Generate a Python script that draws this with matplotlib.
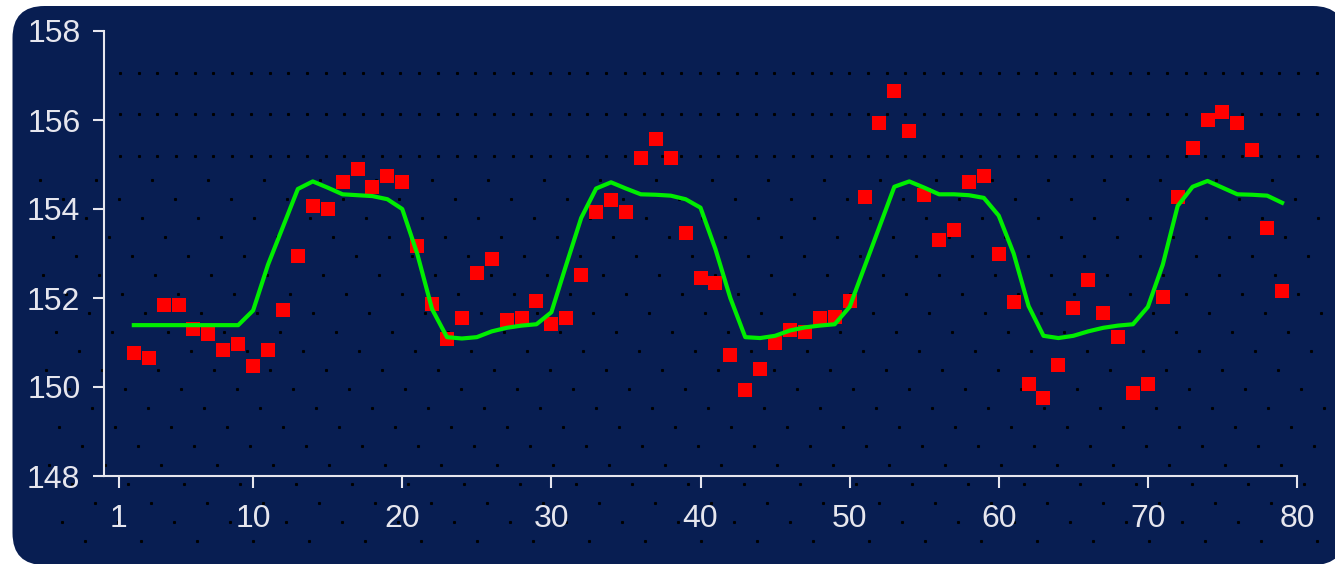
import numpy as np
import matplotlib
matplotlib.use("Agg")
import matplotlib.pyplot as plt
from matplotlib.patches import FancyBboxPatch
from matplotlib.transforms import IdentityTransform

# ---- data ----
x_values = list(range(2, 80))
observed = [150.77, 150.65, 151.84, 151.84, 151.30, 151.20, 150.83, 150.96, 150.47, 150.83,
            151.72, 152.94, 154.07, 154.01, 154.61, 154.91, 154.49, 154.74, 154.61, 153.17,
            151.86, 151.07, 151.56, 152.57, 152.87, 151.51, 151.54, 151.93, 151.41, 151.56,
            152.51, 153.94, 154.20, 153.94, 155.14, 155.57, 155.14, 153.47, 152.44, 152.33,
            150.71, 149.93, 150.41, 151.00, 151.28, 151.24, 151.54, 151.58, 151.93, 154.26,
            155.94, 156.65, 155.75, 154.31, 153.30, 153.53, 154.61, 154.74, 153.00, 151.92,
            150.06, 149.76, 150.49, 151.78, 152.40, 151.67, 151.13, 149.87, 150.06, 152.03,
            154.26, 155.38, 155.99, 156.18, 155.94, 155.33, 153.58, 152.16]
fitted = [151.39, 151.39, 151.39, 151.39, 151.39, 151.39, 151.39, 151.39, 151.72, 152.75,
          153.60, 154.45, 154.62, 154.48, 154.33, 154.31, 154.29, 154.22, 154.00, 153.00,
          151.75, 151.12, 151.09, 151.12, 151.25, 151.33, 151.38, 151.41, 151.68, 152.75,
          153.80, 154.46, 154.60, 154.46, 154.33, 154.32, 154.30, 154.22, 154.03, 153.10,
          152.00, 151.12, 151.10, 151.15, 151.27, 151.34, 151.38, 151.41, 151.80, 152.70,
          153.60, 154.50, 154.62, 154.48, 154.33, 154.33, 154.31, 154.25, 153.85, 153.00,
          151.82, 151.15, 151.10, 151.15, 151.25, 151.33, 151.38, 151.41, 151.80, 152.75,
          154.07, 154.50, 154.63, 154.48, 154.33, 154.32, 154.30, 154.14]
x_ticks = [1, 10, 20, 30, 40, 50, 60, 70, 80]
y_ticks = [148, 150, 152, 154, 156, 158]

NAVY = "#081e52"
AXC = "#e6e6ee"

W, H = 1335, 564
fig = plt.figure(figsize=(W / 100, H / 100), dpi=100)
fig.patch.set_facecolor("white")

# rounded navy panel (pixel coordinates, origin bottom-left)
panel = FancyBboxPatch((12.5, -1), 1345 - 12.5, H - 6 + 1,
                       boxstyle="round,pad=0,rounding_size=32",
                       transform=IdentityTransform(), facecolor=NAVY,
                       edgecolor="none", zorder=0)
fig.patches.append(panel)

# subtle dot texture on the panel (decorative)
dx, dy = [], []
for yy in (73, 114, 156):
    for xx in np.arange(120, W - 10, 18.7):
        dx.append(xx)
        dy.append(H - yy)
for k, yy in enumerate(np.arange(180, 556, 19)):
    off = (k * 23) % 56
    for xx in np.arange(40 + off, W - 10, 56):
        dx.append(xx)
        dy.append(H - yy)
fig.add_artist(plt.Line2D(dx, dy, linestyle="none", marker="s", markersize=1.2,
                          color="black", transform=IdentityTransform(), zorder=0.5))

ax = fig.add_axes([104 / W, 1 - 476 / H, (1297 - 104) / W, (476 - 31) / H])
ax.set_zorder(3)
ax.set_facecolor("none")
ax.set_xlim(0, 80)
ax.set_ylim(148, 158)

ax.plot(x_values, observed, linestyle="none", marker="s", markersize=10,
        color="#ff0000", markeredgewidth=0, zorder=3, clip_on=False)
ax.plot(x_values, fitted, color="#00ee00", linewidth=3.0, zorder=4,
        solid_joinstyle="round", clip_on=False)

for s in ["top", "right"]:
    ax.spines[s].set_visible(False)
for s in ["left", "bottom"]:
    ax.spines[s].set_color(AXC)
    ax.spines[s].set_linewidth(1.5)

ax.set_xticks(x_ticks)
ax.set_yticks(y_ticks)
ax.set_xticklabels([str(t) for t in x_ticks])
ax.set_yticklabels([str(t) for t in y_ticks])
ax.tick_params(axis="both", colors=AXC, width=1.5, labelsize=23)
ax.tick_params(axis="x", length=8.5, pad=12)
ax.tick_params(axis="y", length=8, pad=9)
for lab in ax.get_xticklabels() + ax.get_yticklabels():
    lab.set_family("Liberation Sans")
    lab.set_color(AXC)

fig.savefig("out.png", dpi=100, facecolor="white")
